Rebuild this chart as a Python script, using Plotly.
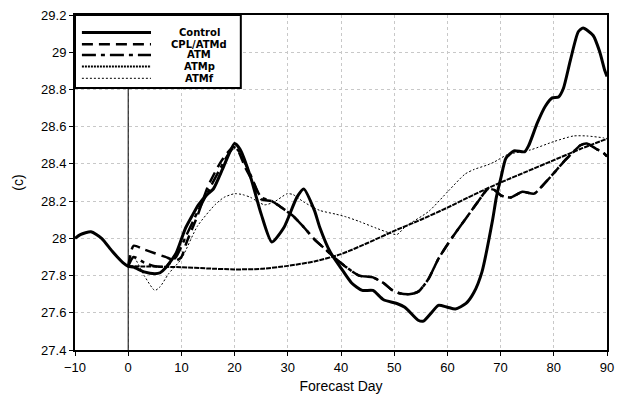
import plotly.graph_objects as go

# ---------------- data ----------------
control_day = [-10, -9, -7, -5, -3, -1, 0, 1, 3, 5, 6, 7, 9, 10.7, 12, 13.2, 15, 16, 18, 20, 21, 23, 25, 27,
               29.3, 31.7, 33, 35, 36, 38, 40, 42, 44, 46, 48, 50.5, 52, 54.5, 55.5, 57, 58.3, 60, 61.5, 63.5,
               65, 66.5, 68.5, 69.2, 70.1, 71, 72.5, 74.5, 75.3, 76.9, 78.4, 79.7, 80.9, 81.8, 83.1, 84.6,
               85.5, 87.4, 88.6, 89.6, 90]
control_val = [28.00, 28.02, 28.035, 28.0, 27.93, 27.87, 27.85, 27.845, 27.82, 27.81, 27.815, 27.84, 27.92,
               28.05, 28.12, 28.18, 28.24, 28.265, 28.39, 28.51, 28.48, 28.33, 28.13, 27.98, 28.06, 28.22,
               28.265, 28.15, 28.06, 27.925, 27.84, 27.76, 27.72, 27.72, 27.67, 27.65, 27.63, 27.56, 27.555,
               27.6, 27.64, 27.63, 27.62, 27.65, 27.71, 27.82, 28.1, 28.22, 28.33, 28.43, 28.47, 28.465,
               28.5, 28.62, 28.71, 28.755, 28.76, 28.805, 28.955, 29.11, 29.13, 29.09, 29.005, 28.9, 28.87]

cpl_day = [0, 1, 3, 5, 7, 9, 10, 11, 13, 15, 17.5, 19.7, 20.5, 22, 23.7, 25, 27, 28.6, 31, 33, 35, 37.3, 39,
           41, 43.4, 46, 48, 49.7, 51, 52.8, 54.6, 56.5, 58.3, 60.8, 63.3, 65.7, 67.6, 68.8, 70.1, 71.9, 74.1,
           76.3, 78.1, 80, 81.8, 83.7, 85, 86.2, 88, 89.3, 90]
cpl_val = [27.85, 27.96, 27.94, 27.92, 27.90, 27.88, 27.90, 27.98, 28.12, 28.28, 28.415, 28.49, 28.48, 28.38,
           28.29, 28.21, 28.20, 28.17, 28.12, 28.06, 27.995, 27.935, 27.89, 27.845, 27.80, 27.79, 27.76, 27.72,
           27.705, 27.70, 27.715, 27.785, 27.89, 28.0, 28.10, 28.195, 28.265, 28.26, 28.23, 28.22, 28.25,
           28.24, 28.29, 28.35, 28.41, 28.465, 28.50, 28.51, 28.48, 28.46, 28.44]

atm_day = [0, 1, 3, 5, 7, 9, 11, 13, 15, 17, 19, 20, 21, 23, 25, 27, 28.6, 31, 33, 35, 37.3, 39, 41, 43.4,
           46, 48, 49.7, 51, 52.8, 54.6, 56.5, 58.3, 60.8, 63.3, 65.7, 67.6, 68.8, 70.1, 71.9, 74.1, 76.3,
           78.1, 80, 81.8, 83.7, 85, 86.2, 88, 89.3, 90]
atm_val = [27.85, 27.90, 27.87, 27.85, 27.85, 27.90, 28.02, 28.14, 28.25, 28.36, 28.46, 28.49, 28.46, 28.34,
           28.22, 28.20, 28.17, 28.12, 28.06, 27.995, 27.935, 27.89, 27.845, 27.80, 27.79, 27.76, 27.72,
           27.705, 27.70, 27.715, 27.785, 27.89, 28.0, 28.10, 28.195, 28.265, 28.26, 28.23, 28.22, 28.25,
           28.24, 28.29, 28.35, 28.41, 28.465, 28.50, 28.51, 28.48, 28.46, 28.44]

atmp_day = [0, 5, 10, 15, 20, 25, 30, 35, 40, 45, 50, 55, 60, 65, 70, 75, 80, 85, 90]
atmp_val = [27.85, 27.848, 27.845, 27.838, 27.833, 27.836, 27.852, 27.876, 27.915, 27.975, 28.04, 28.10,
            28.165, 28.235, 28.30, 28.36, 28.42, 28.48, 28.535]

atmf_day = [0, 1, 3, 5, 6, 7.6, 10, 13, 16.3, 18, 20, 21.5, 23, 25.6, 27.4, 29.9, 31, 33, 36, 39, 41, 43.5,
            46.6, 49, 50.5, 52.2, 56.5, 60.2, 63.3, 65, 67.6, 68.8, 71.3, 75.6, 80, 83.7, 86.2, 89.3, 90]
atmf_val = [27.85, 27.90, 27.80, 27.72, 27.74, 27.81, 27.89, 28.065, 28.18, 28.22, 28.24, 28.235, 28.22,
            28.18, 28.195, 28.24, 28.235, 28.195, 28.15, 28.13, 28.115, 28.09, 28.055, 28.03, 28.02, 28.065,
            28.145, 28.255, 28.345, 28.37, 28.395, 28.41, 28.45, 28.475, 28.52, 28.55, 28.55, 28.54, 28.535]

series_names = ["Control", "CPL/ATMd", "ATM", "ATMp", "ATMf"]
x_ticks = list(range(-10, 91, 10))

# ---------------- styles ----------------
styles = {
    "Control": dict(width=3, dash="solid"),
    "CPL/ATMd": dict(width=2.5, dash="11px,6px"),
    "ATM": dict(width=2.5, dash="14px,5px,4px,5px"),
    "ATMp": dict(width=2, dash="5px,1px"),
    "ATMf": dict(width=1, dash="2px,2px"),
}
legend_dash = {"ATMp": "2px,1px"}
data = {
    "Control": (control_day, control_val),
    "CPL/ATMd": (cpl_day, cpl_val),
    "ATM": (atm_day, atm_val),
    "ATMp": (atmp_day, atmp_val),
    "ATMf": (atmf_day, atmf_val),
}

W, H = 622, 400
L, R, T, B = 75, 8, 13, 43
PW, PH = W - L - R, H - T - B


def px(xp):
    return (xp - L) / PW


def py(yp):
    return (H - B - yp) / PH


fig = go.Figure()
for name in ["ATMf", "ATMp", "ATM", "CPL/ATMd", "Control"]:
    d, v = data[name]
    st = styles[name]
    fig.add_trace(go.Scatter(x=d, y=v, mode="lines", name=name, showlegend=False,
                             line=dict(color="black", width=st["width"], dash=st["dash"], shape="spline",
                                       smoothing=0.6)))

shapes = []
# vertical line at day 0
shapes.append(dict(type="line", xref="x", yref="paper", x0=0, x1=0, y0=0, y1=1,
                   line=dict(color="black", width=1), layer="above"))
# legend box
shapes.append(dict(type="rect", xref="paper", yref="paper", x0=px(75), x1=px(243), y0=py(88), y1=py(13),
                   fillcolor="white", line=dict(color="black", width=2), layer="above"))
rows = [31, 43, 54, 66, 78]
annotations = []
for name, yp in zip(series_names, rows):
    st = styles[name]
    shapes.append(dict(type="line", xref="paper", yref="paper", x0=px(82), x1=px(152), y0=py(yp), y1=py(yp),
                       line=dict(color="black", width=st["width"], dash=legend_dash.get(name, st["dash"])),
                       layer="above"))
    annotations.append(dict(xref="paper", yref="paper", x=px(201), y=py(yp), text="<b>%s</b>" % name,
                            showarrow=False, xanchor="center", yanchor="middle",
                            font=dict(family="DejaVu Sans", size=10, color="black")))

fig.update_layout(
    width=W, height=H,
    margin=dict(l=L, r=R, t=T, b=B),
    paper_bgcolor="white", plot_bgcolor="white",
    shapes=shapes, annotations=annotations,
    font=dict(family="Liberation Sans", size=13, color="black"),
    xaxis=dict(range=[-10, 90], tickvals=x_ticks, showgrid=True, gridcolor="#c8c8c8", griddash="3px,3px",
               gridwidth=1, showline=True, linecolor="black", linewidth=2, mirror=True,
               ticks="outside", ticklen=4, tickcolor="black", zeroline=False,
               title=dict(text="Forecast Day", font=dict(size=14), standoff=8)),
    yaxis=dict(range=[27.4, 29.2], dtick=0.2, tick0=27.4, showgrid=True, gridcolor="#c8c8c8",
               griddash="3px,3px", gridwidth=1, showline=True, linecolor="black", linewidth=2, mirror=True,
               ticks="outside", ticklen=4, tickcolor="black", zeroline=False,
               title=dict(text="(c)", font=dict(size=14), standoff=14)),
)

fig.write_html("out.html")
